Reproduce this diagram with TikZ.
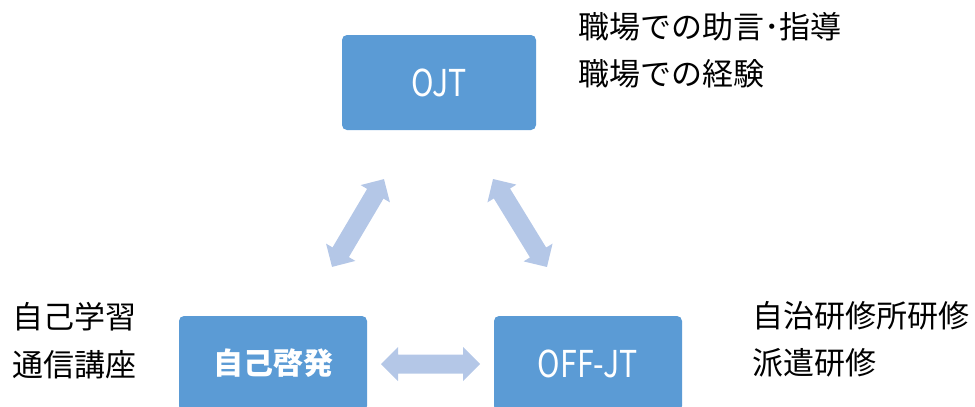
\documentclass[tikz,border=0pt]{standalone}
\usepackage{fontspec}
\usepackage{graphicx}
\setmainfont{Noto Sans CJK JP}
\definecolor{boxblue}{HTML}{5B9BD5}
\definecolor{arrblue}{HTML}{B4C7E7}
\tikzset{
  bluebox/.style={draw=none, fill=boxblue, rounded corners=5pt, text=white, minimum width=#1, minimum height=95pt, inner sep=0pt},
  arrfill/.style={fill=arrblue, draw=none},
  note/.style={anchor=west, inner sep=0pt, font=\fontsize{31}{31}\selectfont}
}
\newcommand{\latlab}[1]{\scalebox{0.82}[1]{\fontsize{37}{37}\selectfont #1}}
% #1 center, #2 angle, #3 half length
\newcommand{\dblarr}[3]{%
  \begin{scope}[shift={#1}, rotate=#2]
    \fill[arrfill] (-#3,0) -- (-#3+17,-17) -- (-#3+17,-9.5) -- (#3-17,-9.5) -- (#3-17,-17) -- (#3,0)
      -- (#3-17,17) -- (#3-17,9.5) -- (-#3+17,9.5) -- (-#3+17,17) -- cycle;
  \end{scope}}
\begin{document}
\begin{tikzpicture}[x=1pt,y=-1pt]
\useasboundingbox (0,0) rectangle (975,407);
\node[bluebox=194pt] (ojt) at (439,82.5) {\latlab{OJT}};
\node[bluebox=188pt] (jiko) at (273,363.5) {\fontsize{30}{30}\selectfont\bfseries 自己啓発};
\node[bluebox=188pt] (off) at (588,363.5) {\latlab{OFF-JT}};
\dblarr{(430.5,364)}{0}{49.5}
\dblarr{(358,223)}{59.4}{51}
\dblarr{(520,223)}{-58.5}{51.6}
\node[note] (t1) at (578,27) {職場での助言･指導};
\node[note] (t2) at (578,74) {職場での経験};
\node[note] (t3) at (12,317) {自己学習};
\node[note] (t4) at (12,365) {通信講座};
\node[note] (t5) at (752,316) {自治研修所研修};
\node[note] (t6) at (752,363) {派遣研修};
\end{tikzpicture}
\end{document}
